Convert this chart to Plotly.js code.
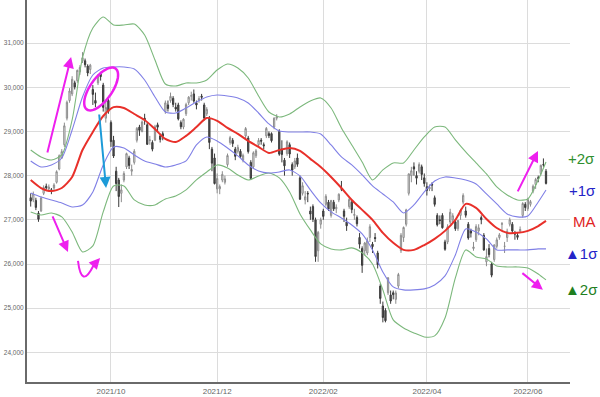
<!DOCTYPE html>
<html>
<head>
<meta charset="utf-8">
<script src="https://cdn.plot.ly/plotly-3.0.1.min.js"></script>
<style>html,body{margin:0;padding:0;background:#fff;}#chart{width:600px;height:397px;}</style>
</head>
<body>
<div id="chart"></div>
<script>
// Daily candles, trading-day index 0 = 2021-08-17 ... 199 = 2022-06-10
const openP = [27500,27450,27440,27150,27200,27600,27760,27700,27680,27720,
27850,28150,28400,28700,29300,29700,29850,30100,30150,30350,
30600,30600,30480,30400,29950,29700,30100,30300,30050,29300,
29700,29200,28800,28100,27900,27600,27900,28200,28400,28100,
28300,28800,29100,29000,29300,29150,28800,28750,28800,29150,
28900,28950,29450,29600,29700,29750,29550,29600,29200,29100,
29400,29650,29800,29850,29650,29700,29800,29600,29400,29300,
28600,28400,27700,27700,27900,27850,28250,28750,28800,28600,
28550,28550,28350,28900,28850,28300,28200,28450,28700,28800,
28700,28900,28950,28950,29100,29300,29000,28600,28350,28500,
28700,28250,28200,28400,27950,27600,27450,27600,27200,27300,
27000,26300,26900,27200,27350,27400,27100,27400,27250,27450,
27700,27200,26950,27300,27400,27100,27050,26600,26350,26300,
26250,26600,26450,26600,26250,25500,25050,24950,25350,25300,
25350,25200,25500,26300,26600,26900,27600,28000,28200,28000,
28100,28200,27950,27750,27700,27800,27500,27100,27000,27100,
26500,26500,26950,27000,26950,26800,27100,27400,27200,26900,
26750,26350,26550,26750,27050,26650,26050,26350,26000,26100,
26400,26600,26900,26400,26600,26900,26900,26700,26650,26750,
27100,27350,27250,27350,27650,27800,27950,28050,28250,28100];
const highP = [27600,27640,27500,27200,27530,27780,27820,27800,27720,27830,
28120,28480,28600,29200,29700,29980,30250,30150,30400,30500,
30795,30650,30520,30530,30050,29880,30300,30350,30100,29700,
29750,29250,28900,28200,27950,27800,28100,28520,28450,28250,
28600,29100,29150,29250,29400,29200,28900,28800,29150,29200,
28950,29000,29700,29700,29880,29800,29650,29650,29250,29300,
29650,29800,29900,29950,29700,29800,29850,29650,29550,29350,
28650,28500,28050,27800,28100,28000,28500,28900,28850,28650,
28700,28600,28500,29100,28900,28350,28550,28600,28850,28850,
28750,29100,29000,28980,29320,29390,29050,28800,28400,28800,
28750,28300,28400,28500,28000,27850,27650,27650,27300,27350,
27050,26750,27050,27250,27580,27450,27450,27450,27350,27600,
27880,27250,27050,27500,27450,27250,27100,26700,26400,26500,
26600,26900,26500,26700,26300,25550,25150,25000,25700,25400,
25400,25400,25800,26700,26850,27250,28050,28200,28300,28100,
28300,28250,28050,27850,27800,27850,27550,27150,27100,27150,
26550,26900,27250,27150,27000,27000,27250,27600,27300,26950,
26800,26500,26900,26900,27100,26700,26350,26450,26050,26450,
26600,26700,26950,26500,26800,27050,26950,26750,26700,26850,
27400,27400,27500,27450,27800,27950,28000,28250,28390,28150];
const lowP = [27300,27400,27220,26955,27180,27560,27680,27640,27580,27650,
27820,28120,28380,28650,29250,29650,29800,29950,30100,30280,
30550,30450,30250,30300,29600,29550,30050,30150,29450,29200,
29400,28650,28400,27650,27290,27400,27850,28150,28150,28000,
28250,28750,28900,28980,29150,28700,28700,28550,28780,29000,
28750,28800,29400,29450,29650,29550,29450,29250,29050,29050,
29350,29600,29700,29650,29500,29650,29700,29250,29350,28600,
28100,27800,27600,27580,27850,27800,28200,28700,28650,28350,
28500,28400,28300,28850,28500,27900,28150,28400,28650,28700,
28600,28850,28850,28750,29050,29250,28450,28300,28000,28450,
28400,28000,28150,28200,27450,27550,27350,27400,27000,26950,
26050,26050,26800,27000,27300,27200,27050,27200,27150,27400,
27650,26950,26750,27250,27150,27000,26850,26350,25800,26200,
26200,26500,26250,26500,25900,25100,24680,24680,25300,25100,
25200,25100,25450,26250,26500,26850,27550,27850,28000,27800,
28050,27900,27750,27550,27650,27650,27300,26850,26900,26800,
26300,26450,26900,26950,26750,26750,27000,27350,27050,26550,
26600,26300,26500,26650,26900,26300,25950,26150,25700,26050,
26350,26550,26750,26250,26500,26850,26700,26550,26550,26700,
27050,27200,27200,27300,27600,27700,27850,28000,28200,27800];
const closeP = [27424,27585,27281,27013,27494,27732,27724,27742,27641,27789,
28089,28451,28543,29128,29660,29916,30181,30008,30382,30447,
30670,30511,30323,30500,29839,29639,30248,30240,29544,29544,
29452,28771,28444,27822,27528,27678,28048,28498,28230,28140,
28551,29068,29025,29215,29255,28708,28804,28600,29106,29098,
28820,28892,29647,29520,29794,29611,29507,29285,29106,29277,
29609,29776,29808,29688,29598,29745,29774,29302,29499,28751,
28283,27821,27935,27753,28029,27927,28455,28860,28725,28437,
28640,28432,28459,29066,28545,27937,28517,28562,28798,28782,
28676,29069,28906,28791,29301,29332,28487,28478,28222,28765,
28489,28124,28333,28257,27467,27772,27522,27588,27131,27011,
26170,26717,27001,27078,27533,27241,27439,27248,27284,27579,
27696,27079,26865,27460,27232,27122,26910,26449,25970,26476,
26526,26844,26393,26577,25985,25221,24790,24717,25690,25163,
25307,25346,25762,26652,26827,27224,28040,28110,28149,27943,
28252,28027,27821,27665,27736,27787,27350,26888,26985,26821,
26334,26843,27172,27093,26799,26985,27217,27553,27105,26590,
26700,26386,26847,26818,27003,26319,26167,26213,25748,26427,
26547,26659,26911,26402,26739,27001,26748,26677,26604,26781,
27369,27279,27457,27413,27761,27915,27943,28234,28246,27824];

// Bollinger band lines at sample days
const bandDays = [0,4,8,12,16,20,24,28,32,36,40,44,48,52,56,60,64,68,72,76,80,84,88,92,96,100,104,108,112,116,120,124,128,132,136,140,144,148,152,156,160,164,168,172,176,180,184,188,192,196,199];
const maLine = [27900,27720,27650,27720,27970,28580,28990,29350,29550,29530,29395,29260,29055,28830,28760,28900,29100,29305,29240,29080,28945,28785,28650,28515,28580,28625,28560,28380,28195,27970,27720,27450,27225,27000,26705,26480,26320,26320,26430,26570,26750,27000,27360,27270,27020,26815,26705,26705,26750,26860,26975];
const plus1 = [28333,28197,28242,28400,29034,29780,30278,30436,30459,30459,30414,30165,29780,29441,29418,29531,29667,29780,29825,29803,29758,29644,29418,29170,29011,28988,28988,28988,28943,28694,28423,28242,28016,27767,27586,27405,27156,27337,27631,27880,27971,27948,27903,27812,27586,27360,27134,27066,27088,27405,27677];
const minus1 = [27609,27518,27450,27382,27292,27337,27631,28242,28649,28626,28468,28333,28265,28197,28242,28333,28694,28875,28785,28626,28446,28242,28106,28061,28084,28129,27993,27677,27382,27179,27043,26884,26681,26319,25821,25482,25414,25414,25437,25527,25730,26206,26794,26726,26568,26319,26319,26319,26319,26342,26342];
const plus2 = [28581,28423,28355,28468,29260,30663,31341,31590,31409,31409,31431,31182,30617,30074,30029,30097,30097,30165,30391,30527,30436,30210,29803,29441,29328,29396,29554,29690,29758,29531,29079,28694,28310,27903,28129,28287,28287,28581,28875,29102,29102,28808,28536,28287,28038,27744,27563,27450,27473,27903,28310];
const minus2 = [27178,27111,27156,27066,26726,26274,26410,27179,27767,27767,27450,27337,27337,27473,27541,27677,27903,28084,28242,28174,28016,27903,27993,28061,27948,27631,27134,26772,26455,26342,26319,26365,26251,26002,25414,24735,24554,24441,24350,24373,24780,25685,26319,26160,26115,25957,25934,25934,25911,25775,25640];

const tickDays = [31,72,113,153,192];
const tickLabels = ['2021/10','2021/12','2022/02','2022/04','2022/06'];
const bandLabels = ['+2σ','+1σ','MA','▲1σ','▲2σ'];

const days = closeP.map((_, i) => i);

const X_RANGE = [-1.43, 208.27];
const Y_RANGE = [23330, 31975];
const PLOT_W = 543, PLOT_H = 382;
const pxI = PLOT_W / (X_RANGE[1] - X_RANGE[0]);
const pxV = PLOT_H / (Y_RANGE[1] - Y_RANGE[0]);

function bandTrace(y, color, width) {
  return {type:'scatter', mode:'lines', x: bandDays, y: y,
    line:{color: color, width: width, shape:'spline', smoothing:0.7},
    hoverinfo:'skip', showlegend:false};
}

const traces = [
  {type:'candlestick', x: days, open: openP, high: highP, low: lowP, close: closeP,
   increasing:{line:{color:'#8c8c8c', width:1}, fillcolor:'#f3f3f3'},
   decreasing:{line:{color:'#3a3a3a', width:1}, fillcolor:'#555555'},
   whiskerwidth:0, hoverinfo:'skip', showlegend:false},
  bandTrace(plus2, '#7cb87c', 1.1),
  bandTrace(minus2, '#7cb87c', 1.1),
  bandTrace(plus1, '#8080e6', 1.1),
  bandTrace(minus1, '#8080e6', 1.1),
  bandTrace(maLine, '#e8302a', 2)
];

function ellipsePath(ci, cv, a, b, deg) {
  const th = deg * Math.PI / 180;
  let d = '';
  for (let k = 0; k <= 60; k++) {
    const t = 2 * Math.PI * k / 60;
    const dx = a*Math.cos(t)*Math.cos(th) - b*Math.sin(t)*Math.sin(th);
    const dy = a*Math.cos(t)*Math.sin(th) + b*Math.sin(t)*Math.cos(th);
    d += (k ? ' L ' : 'M ') + (ci + dx/pxI).toFixed(3) + ',' + (cv + dy/pxV).toFixed(1);
  }
  return d + ' Z';
}

const MAG = '#ee1fee';
function arrow(x, y, ax, ay, color) {
  return {x:x, y:y, ax:ax, ay:ay, xref:'x', yref:'y', axref:'x', ayref:'y',
    text:'', showarrow:true, arrowhead:2, arrowsize:1.1, arrowwidth:2, arrowcolor:color};
}

const labelColors = ['#2f8f2f','#2424c8','#e02424','#2424c8','#1f7f1f'];
const labelY = [158, 190, 221, 253, 289];
const labelX = [581, 582, 584, 581, 581];
const labelAnn = bandLabels.map((t, k) => ({
  text: t, xref:'paper', yref:'paper',
  x: (labelX[k] - 27) / PLOT_W, y: 1 - labelY[k] / PLOT_H,
  xanchor:'center', yanchor:'middle', showarrow:false,
  font:{family:'Liberation Sans, Arial, sans-serif', size:15, color: labelColors[k]}
}));

const layout = {
  width:600, height:397,
  margin:{l:27, r:30, t:0, b:15},
  paper_bgcolor:'#ffffff', plot_bgcolor:'#ffffff',
  showlegend:false, hovermode:false,
  xaxis:{range: X_RANGE, tickvals: tickDays, ticktext: tickLabels,
    showgrid:true, gridcolor:'#dcdcdc', gridwidth:1, zeroline:false,
    showline:true, linecolor:'#6a6a6a', linewidth:2, ticks:'',
    tickfont:{family:'Liberation Sans, Arial, sans-serif', size:8, color:'#666'},
    rangeslider:{visible:false}, fixedrange:true},
  yaxis:{range: Y_RANGE, dtick:1000, tick0:24000, tickformat:',d',
    showgrid:true, gridcolor:'#dcdcdc', gridwidth:1, zeroline:false,
    showline:true, linecolor:'#6a6a6a', linewidth:2, ticks:'',
    tickfont:{family:'Liberation Sans, Arial, sans-serif', size:6.5, color:'#666'},
    fixedrange:true},
  shapes:[
    {type:'path', xref:'x', yref:'y', path: ellipsePath(27.2, 29962, 25, 11, 55),
     line:{color:MAG, width:2.5}, fillcolor:'rgba(0,0,0,0)'},
    {type:'path', xref:'x', yref:'y', path:'M 18.26,26070 Q 19.6,25420 24.2,25960',
     line:{color:MAG, width:2}, fillcolor:'rgba(0,0,0,0)'}
  ],
  annotations: [
    arrow(15.6, 30685, 6.3, 28491, MAG),
    arrow(29.1, 27722, 26.4, 29418, '#1d9bd8'),
    arrow(14.4, 26274, 8.2, 27111, MAG),
    arrow(26.8, 26138, 24.0, 25955, MAG),
    arrow(195.9, 28559, 187.8, 27609, MAG),
    arrow(197.8, 25415, 189.3, 25822, MAG)
  ].concat(labelAnn)
};

Plotly.newPlot('chart', traces, layout, {displayModeBar:false, staticPlot:true});
</script>
</body>
</html>
